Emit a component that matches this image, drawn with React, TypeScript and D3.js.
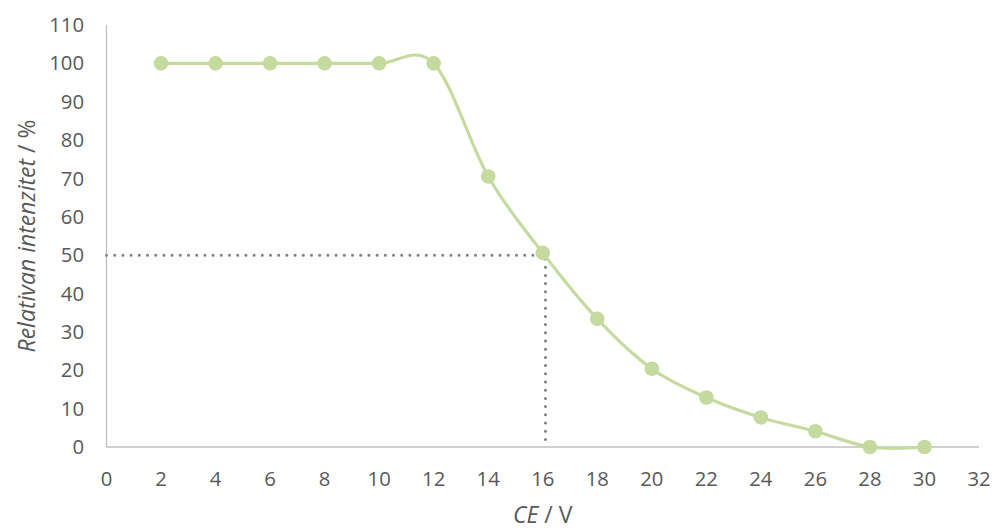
import React from "react";
import * as d3 from "d3";

const ceValues = [2, 4, 6, 8, 10, 12, 14, 16, 18, 20, 22, 24, 26, 28, 30];
const intensity = [100, 100, 100, 100, 100, 100, 70.5, 50.6, 33.4, 20.4, 12.9, 7.7, 4.1, 0, 0];
const xTicks = [0, 2, 4, 6, 8, 10, 12, 14, 16, 18, 20, 22, 24, 26, 28, 30, 32];
const yTicks = [0, 10, 20, 30, 40, 50, 60, 70, 80, 90, 100, 110];
const guideX = [16.1];
const guideY = [50];

const W = 993;
const H = 529;
const M = { left: 106.5, right: 14, top: 25, bottom: 82 };
const FONT = "'Open Sans', 'Liberation Sans', sans-serif";
const TEXT = "#595959";
const GREEN = "#c5da9f";
const TICK_FS = 20.3;
const TITLE_FS = 23;

export default function App() {
  const x = d3.scaleLinear().domain([0, 32]).range([M.left, W - M.right]);
  const y = d3.scaleLinear().domain([0, 110]).range([H - M.bottom, M.top]);
  const pts: [number, number][] = ceValues.map((c, i) => [c, intensity[i]]);
  const line = d3
    .line<[number, number]>()
    .x((d) => x(d[0]))
    .y((d) => y(d[1]))
    .curve(d3.curveCardinal.tension(0));

  const gx = guideX[0];
  const gy = guideY[0];

  return (
    <svg width={W} height={H} style={{ position: "absolute", left: 0, top: 0, background: "#fff" }}>
      {/* axes */}
      <line x1={x(0)} x2={x(0)} y1={y(110)} y2={y(0)} stroke="#bfbfbf" strokeWidth={1.3} />
      <line x1={x(0)} x2={x(32)} y1={y(0)} y2={y(0)} stroke="#bfbfbf" strokeWidth={1.3} />

      {/* y ticks */}
      {yTicks.map((t) => (
        <text key={"y" + t} x={84} y={y(t)} dy="0.35em" textAnchor="end" fontFamily={FONT} fontSize={TICK_FS} fill={TEXT}>
          {t}
        </text>
      ))}
      {/* x ticks */}
      {xTicks.map((t) => (
        <text key={"x" + t} x={x(t)} y={y(0) + 31.5} dy="0.35em" textAnchor="middle" fontFamily={FONT} fontSize={TICK_FS} fill={TEXT}>
          {t}
        </text>
      ))}

      {/* guide lines */}
      <path
        d={`M${x(0)},${y(gy)}H${x(gx)}V${y(0)}`}
        fill="none"
        stroke="#7f7f7f"
        strokeWidth={3}
        strokeDasharray="0 8.2"
        strokeLinecap="round"
      />

      {/* series */}
      <path d={line(pts) || ""} fill="none" stroke={GREEN} strokeWidth={3.2} />
      {pts.map((d, i) => (
        <circle key={i} cx={x(d[0])} cy={y(d[1])} r={7.3} fill={GREEN} />
      ))}

      {/* axis titles */}
      <text
        transform={`translate(27,${(y(0) + y(110)) / 2}) rotate(-90)`}
        textAnchor="middle"
        dy="0.35em"
        fontFamily={FONT}
        fontSize={TITLE_FS}
        fill={TEXT}
      >
        <tspan fontStyle="italic">Relativan intenzitet</tspan>
        <tspan> / %</tspan>
      </text>
      <text x={(x(0) + x(32)) / 2} y={515} dy="0.35em" textAnchor="middle" fontFamily={FONT} fontSize={TITLE_FS} fill={TEXT}>
        <tspan fontStyle="italic">CE</tspan>
        <tspan> / V</tspan>
      </text>
    </svg>
  );
}
